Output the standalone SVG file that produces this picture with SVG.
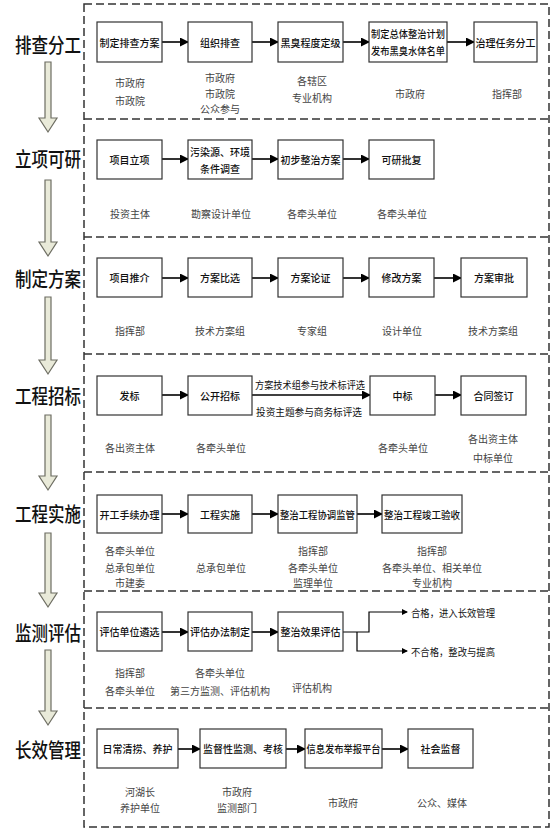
<svg xmlns="http://www.w3.org/2000/svg" width="560" height="831" viewBox="0 0 560 831">
<style>
.frame{fill:none;stroke:#333;stroke-width:1.5;stroke-dasharray:8 4}
.box{fill:#fff;stroke:#333;stroke-width:1.2}
.bt{font-family:"Noto Sans CJK SC",sans-serif;font-size:10px;fill:#111;text-anchor:middle;dominant-baseline:central;font-weight:500}
.lt{font-family:"Noto Sans CJK SC",sans-serif;font-size:10px;fill:#444;text-anchor:middle;dominant-baseline:central}
.st{font-family:"Noto Sans CJK SC",sans-serif;font-size:20px;fill:#111;text-anchor:middle;dominant-baseline:central;font-weight:500}
.ct{font-family:"Noto Sans CJK SC",sans-serif;font-size:10px;fill:#111;dominant-baseline:central}
.ar{fill:none;stroke:#000;stroke-width:1.6;marker-end:url(#ah)}
.sa{fill:none;stroke:#000;stroke-width:1.2;marker-end:url(#sh)}
.down{fill:#e9ead9;stroke:#6d6d62;stroke-width:1.2}
</style>
<defs>
<marker id="ah" markerWidth="9" markerHeight="9" refX="8" refY="4.5" orient="auto" markerUnits="userSpaceOnUse">
<path d="M0,0 L9,4.5 L0,9 Z" fill="#000"/>
</marker>
<marker id="sh" markerWidth="6" markerHeight="6" refX="5" refY="3" orient="auto" markerUnits="userSpaceOnUse">
<path d="M0,0 L6,3 L0,6 Z" fill="#000"/>
</marker>
</defs>

<g id="frame">
<rect class="frame" x="84" y="4" width="465" height="823"/>
<line class="frame" x1="84" y1="119" x2="549" y2="119"/>
<line class="frame" x1="84" y1="237" x2="549" y2="237"/>
<line class="frame" x1="84" y1="354" x2="549" y2="354"/>
<line class="frame" x1="84" y1="472" x2="549" y2="472"/>
<line class="frame" x1="84" y1="591" x2="549" y2="591"/>
<line class="frame" x1="84" y1="708" x2="549" y2="708"/>
</g>

<g id="stages">
<text class="st" x="48" y="44" textLength="66" lengthAdjust="spacingAndGlyphs">排查分工</text>
<text class="st" x="48" y="158" textLength="66" lengthAdjust="spacingAndGlyphs">立项可研</text>
<text class="st" x="48" y="278" textLength="66" lengthAdjust="spacingAndGlyphs">制定方案</text>
<text class="st" x="48" y="395" textLength="66" lengthAdjust="spacingAndGlyphs">工程招标</text>
<text class="st" x="48" y="513" textLength="66" lengthAdjust="spacingAndGlyphs">工程实施</text>
<text class="st" x="48" y="632" textLength="66" lengthAdjust="spacingAndGlyphs">监测评估</text>
<text class="st" x="48" y="749" textLength="66" lengthAdjust="spacingAndGlyphs">长效管理</text>
</g>

<g id="stage-arrows">
<path class="down" d="M45,62 H51 V118 H57 L48,132 L39,118 H45 Z"/>
<path class="down" d="M45,180 H51 V242 H57 L48,256 L39,242 H45 Z"/>
<path class="down" d="M45,297 H51 V360 H57 L48,374 L39,360 H45 Z"/>
<path class="down" d="M45,415 H51 V476 H57 L48,490 L39,476 H45 Z"/>
<path class="down" d="M45,533 H51 V593 H57 L48,607 L39,593 H45 Z"/>
<path class="down" d="M45,650 H51 V711 H57 L48,725 L39,711 H45 Z"/>
</g>

<g id="connectors">
<line class="ar" x1="162" y1="42" x2="188" y2="42"/>
<line class="ar" x1="252" y1="42" x2="278" y2="42"/>
<line class="ar" x1="343" y1="42" x2="369" y2="42"/>
<line class="ar" x1="447" y1="42" x2="474" y2="42"/>

<line class="ar" x1="162" y1="159" x2="188" y2="159"/>
<line class="ar" x1="252" y1="159" x2="278" y2="159"/>
<line class="ar" x1="343" y1="159" x2="369" y2="159"/>

<line class="ar" x1="162" y1="278" x2="188" y2="278"/>
<line class="ar" x1="252" y1="278" x2="278" y2="278"/>
<line class="ar" x1="343" y1="278" x2="369" y2="278"/>
<line class="ar" x1="434" y1="278" x2="461" y2="278"/>

<line class="ar" x1="162" y1="395" x2="188" y2="395"/>
<line class="ar" x1="252" y1="395" x2="370" y2="395"/>
<line class="ar" x1="435" y1="395" x2="461" y2="395"/>

<line class="ar" x1="162" y1="514" x2="188" y2="514"/>
<line class="ar" x1="252" y1="514" x2="278" y2="514"/>
<line class="ar" x1="357" y1="514" x2="382" y2="514"/>

<line class="ar" x1="162" y1="632" x2="188" y2="632"/>
<line class="ar" x1="252" y1="632" x2="278" y2="632"/>
<path class="sa" d="M343,632 H369 V612 H407"/>
<path class="sa" d="M357,632 V651 H407"/>

<line class="ar" x1="178" y1="749" x2="200" y2="749"/>
<line class="ar" x1="286" y1="749" x2="305" y2="749"/>
<line class="ar" x1="382" y1="749" x2="408" y2="749"/>

<text class="ct" x="310" y="384" text-anchor="middle" textLength="110" lengthAdjust="spacingAndGlyphs">方案技术组参与技术标评选</text>
<text class="ct" x="309" y="411" text-anchor="middle" textLength="106" lengthAdjust="spacingAndGlyphs">投资主题参与商务标评选</text>
<text class="ct" x="411" y="612" textLength="84" lengthAdjust="spacingAndGlyphs">合格，进入长效管理</text>
<text class="ct" x="411" y="651" textLength="84" lengthAdjust="spacingAndGlyphs">不合格，整改与提高</text>
</g>

<!-- Row 1 -->
<g id="n-zhidingpaicha"><rect class="box" x="97" y="22" width="65" height="40"/><text class="bt" x="129.5" y="42">制定排查方案</text><text class="lt" x="130" y="82">市政府</text><text class="lt" x="130" y="100">市政院</text></g>
<g id="n-zuzhipaicha"><rect class="box" x="188" y="22" width="64" height="40"/><text class="bt" x="220" y="42">组织排查</text><text class="lt" x="220" y="77">市政府</text><text class="lt" x="220" y="93">市政院</text><text class="lt" x="220" y="108">公众参与</text></g>
<g id="n-heichou"><rect class="box" x="278" y="22" width="65" height="40"/><text class="bt" x="310.5" y="42">黑臭程度定级</text><text class="lt" x="312" y="80">各辖区</text><text class="lt" x="312" y="97">专业机构</text></g>
<g id="n-zongti"><rect class="box" x="369" y="22" width="78" height="40"/><text class="bt" x="408" y="33" textLength="74" lengthAdjust="spacingAndGlyphs">制定总体整治计划</text><text class="bt" x="408" y="50" textLength="74" lengthAdjust="spacingAndGlyphs">发布黑臭水体名单</text><text class="lt" x="410" y="93">市政府</text></g>
<g id="n-renwu"><rect class="box" x="474" y="22" width="63" height="40"/><text class="bt" x="505.5" y="42">治理任务分工</text><text class="lt" x="507" y="93">指挥部</text></g>

<!-- Row 2 -->
<g id="n-lixiang"><rect class="box" x="97" y="140" width="65" height="39"/><text class="bt" x="129.5" y="159.5">项目立项</text><text class="lt" x="130" y="213">投资主体</text></g>
<g id="n-diaocha"><rect class="box" x="188" y="140" width="64" height="39"/><text class="bt" x="220" y="151">污染源、环境</text><text class="bt" x="220" y="168">条件调查</text><text class="lt" x="221" y="213">勘察设计单位</text></g>
<g id="n-chubu"><rect class="box" x="278" y="140" width="65" height="39"/><text class="bt" x="310.5" y="159.5">初步整治方案</text><text class="lt" x="312" y="213">各牵头单位</text></g>
<g id="n-keyan"><rect class="box" x="369" y="140" width="65" height="39"/><text class="bt" x="401.5" y="159.5">可研批复</text><text class="lt" x="402" y="213">各牵头单位</text></g>

<!-- Row 3 -->
<g id="n-tuijie"><rect class="box" x="97" y="258" width="65" height="39"/><text class="bt" x="129.5" y="277.5">项目推介</text><text class="lt" x="130" y="330">指挥部</text></g>
<g id="n-bixuan"><rect class="box" x="188" y="258" width="64" height="39"/><text class="bt" x="220" y="277.5">方案比选</text><text class="lt" x="220" y="330">技术方案组</text></g>
<g id="n-lunzheng"><rect class="box" x="278" y="258" width="65" height="39"/><text class="bt" x="310.5" y="277.5">方案论证</text><text class="lt" x="312" y="330">专家组</text></g>
<g id="n-xiugai"><rect class="box" x="369" y="258" width="65" height="39"/><text class="bt" x="401.5" y="277.5">修改方案</text><text class="lt" x="402" y="330">设计单位</text></g>
<g id="n-shenpi"><rect class="box" x="461" y="258" width="66" height="39"/><text class="bt" x="494" y="277.5">方案审批</text><text class="lt" x="493" y="330">技术方案组</text></g>

<!-- Row 4 -->
<g id="n-fabiao"><rect class="box" x="97" y="376" width="65" height="39"/><text class="bt" x="129.5" y="395.5">发标</text><text class="lt" x="130" y="447">各出资主体</text></g>
<g id="n-gongkai"><rect class="box" x="188" y="376" width="64" height="39"/><text class="bt" x="220" y="395.5">公开招标</text><text class="lt" x="221" y="447">各牵头单位</text></g>
<g id="n-zhongbiao"><rect class="box" x="370" y="376" width="65" height="39"/><text class="bt" x="402.5" y="395.5">中标</text><text class="lt" x="403" y="447">各牵头单位</text></g>
<g id="n-hetong"><rect class="box" x="461" y="376" width="65" height="39"/><text class="bt" x="493.5" y="395.5">合同签订</text><text class="lt" x="493" y="438">各出资主体</text><text class="lt" x="493" y="457">中标单位</text></g>

<!-- Row 5 -->
<g id="n-kaigong"><rect class="box" x="97" y="495" width="65" height="38"/><text class="bt" x="129.5" y="514">开工手续办理</text><text class="lt" x="130" y="550">各牵头单位</text><text class="lt" x="130" y="567">总承包单位</text><text class="lt" x="130" y="582">市建委</text></g>
<g id="n-shishi"><rect class="box" x="188" y="495" width="64" height="38"/><text class="bt" x="220" y="514">工程实施</text><text class="lt" x="221" y="567">总承包单位</text></g>
<g id="n-xietiao"><rect class="box" x="278" y="495" width="79" height="38"/><text class="bt" x="317.5" y="514" textLength="75" lengthAdjust="spacingAndGlyphs">整治工程协调监管</text><text class="lt" x="313" y="550">指挥部</text><text class="lt" x="313" y="567">各牵头单位</text><text class="lt" x="313" y="582">监理单位</text></g>
<g id="n-yanshou"><rect class="box" x="382" y="495" width="80" height="38"/><text class="bt" x="422" y="514" textLength="76" lengthAdjust="spacingAndGlyphs">整治工程竣工验收</text><text class="lt" x="432" y="550">指挥部</text><text class="lt" x="432" y="567">各牵头单位、相关单位</text><text class="lt" x="432" y="582">专业机构</text></g>

<!-- Row 6 -->
<g id="n-linxuan"><rect class="box" x="97" y="612" width="65" height="39"/><text class="bt" x="129.5" y="631.5">评估单位遴选</text><text class="lt" x="130" y="672">指挥部</text><text class="lt" x="130" y="690">各牵头单位</text></g>
<g id="n-banfa"><rect class="box" x="188" y="612" width="64" height="39"/><text class="bt" x="220" y="631.5">评估办法制定</text><text class="lt" x="220" y="672">各牵头单位</text><text class="lt" x="220" y="690">第三方监测、评估机构</text></g>
<g id="n-xiaoguo"><rect class="box" x="278" y="612" width="65" height="39"/><text class="bt" x="310.5" y="631.5">整治效果评估</text><text class="lt" x="312" y="687">评估机构</text></g>

<!-- Row 7 -->
<g id="n-richang"><rect class="box" x="97" y="729" width="81" height="39"/><text class="bt" x="137.5" y="748.5">日常清捞、养护</text><text class="lt" x="140" y="791">河湖长</text><text class="lt" x="140" y="807">养护单位</text></g>
<g id="n-jiance"><rect class="box" x="200" y="729" width="86" height="39"/><text class="bt" x="243" y="748.5">监督性监测、考核</text><text class="lt" x="237" y="791">市政府</text><text class="lt" x="237" y="807">监测部门</text></g>
<g id="n-pingtai"><rect class="box" x="305" y="729" width="77" height="39"/><text class="bt" x="343.5" y="748.5" textLength="74" lengthAdjust="spacingAndGlyphs">信息发布举报平台</text><text class="lt" x="343" y="802">市政府</text></g>
<g id="n-shehui"><rect class="box" x="408" y="729" width="65" height="39"/><text class="bt" x="440.5" y="748.5">社会监督</text><text class="lt" x="442" y="802">公众、媒体</text></g>
</svg>
